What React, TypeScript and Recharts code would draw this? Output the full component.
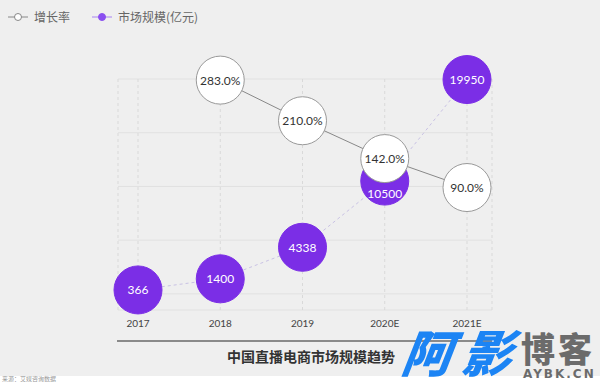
import React from 'react';
import { LineChart, Line, XAxis, YAxis, CartesianGrid } from 'recharts';

const years = ['2017', '2018', '2019', '2020E', '2021E'];
const marketSize = [366, 1400, 4338, 10500, 19950];
const growthRate = [null, 283.0, 210.0, 142.0, 90.0];
const marketTicks = [0, 5000, 10000, 15000, 20000];

const data = years.map((year, i) => ({ year, market: marketSize[i], rate: growthRate[i] }));

const PURPLE = '#7b2ee6';
const FONT = 'Lato, "Noto Sans CJK SC", sans-serif';
const CJK = '"Noto Sans CJK SC", sans-serif';

// bubbles are drawn as labels so the plot clip path does not cut them
const Bubble = ({ x, y, value, fill, stroke, color, text, dy = 0 }: any) => {
  if (value == null || x == null || y == null) return null;
  return (
    <g>
      <circle cx={x} cy={y} r={24} fill={fill} stroke={stroke} strokeWidth={1} />
      <text x={x} y={y + dy} textAnchor="middle" dominantBaseline="central" fontSize={12} fill={color} fontFamily={FONT}>
        {text}
      </text>
    </g>
  );
};

const LegendIcon = ({ line, dotFill, dotStroke }: { line: string; dotFill: string; dotStroke: string }) => (
  <svg width={20} height={10} style={{ marginRight: 6 }}>
    <line x1={0} y1={5} x2={20} y2={5} stroke={line} strokeWidth={1} />
    <circle cx={10} cy={5} r={3.5} fill={dotFill} stroke={dotStroke} strokeWidth={1} />
  </svg>
);

export default function App() {
  return (
    <div style={{ position: 'fixed', left: 0, top: 0, width: 600, height: 382, background: '#fff', overflow: 'hidden', fontFamily: FONT }}>
      <div style={{ position: 'absolute', left: 0, top: 0, width: 600, height: 376, background: '#efefef' }} />

      <div style={{ position: 'absolute', left: 8, top: 8, display: 'flex', alignItems: 'center', fontSize: 12, color: '#666', fontFamily: CJK }}>
        <LegendIcon line="#888" dotFill="#fff" dotStroke="#888" />
        <span style={{ marginRight: 22 }}>增长率</span>
        <LegendIcon line="#a883f2" dotFill="#8a4ff0" dotStroke="#8a4ff0" />
        <span>市场规模(亿元)</span>
      </div>

      <div style={{ position: 'absolute', left: 0, top: 0 }}>
        <LineChart width={600} height={382} data={data} margin={{ top: 79, right: 108, bottom: 42, left: 118 }}>
          <CartesianGrid yAxisId="market" vertical={false} stroke="#e1e1e1" />
          <CartesianGrid yAxisId="market" horizontal={false} stroke="#d9d9d9" strokeDasharray="3 3" />
          <XAxis
            dataKey="year"
            height={30}
            axisLine={false}
            tickLine={false}
            padding={{ left: 20, right: 25 }}
            tick={{ fontSize: 10, fill: '#444', fontFamily: FONT }}
            tickMargin={4}
            interval={0}
          />
          <YAxis yAxisId="market" hide domain={[-1500, 20000]} ticks={marketTicks} allowDataOverflow />
          <YAxis yAxisId="rate" hide domain={[-130, 285]} allowDataOverflow />
          <Line
            yAxisId="market"
            dataKey="market"
            stroke="#c9c2e4"
            strokeWidth={1}
            strokeDasharray="3 3"
            isAnimationActive={false}
            activeDot={false}
            dot={false}
            label={(p: any) => (
              <Bubble
                key={`m-${p.index}`}
                x={p.x}
                y={p.y}
                value={p.value}
                fill={PURPLE}
                stroke={PURPLE}
                color="#fff"
                text={String(p.value)}
                dy={growthRate[p.index] != null && growthRate[p.index]! < 150 && growthRate[p.index]! > 100 ? 12 : 0}
              />
            )}
          />
          <Line
            yAxisId="rate"
            dataKey="rate"
            stroke="#888"
            strokeWidth={1}
            isAnimationActive={false}
            activeDot={false}
            dot={false}
            label={(p: any) => (
              <Bubble key={`r-${p.index}`} x={p.x} y={p.y} value={p.value} fill="#fff" stroke="#999" color="#333" text={p.value == null ? '' : `${Number(p.value).toFixed(1)}%`} />
            )}
          />
        </LineChart>
      </div>

      <div style={{ position: 'absolute', left: 117, top: 340, width: 375, height: 2, background: '#8a8a8a' }} />
      <div style={{ position: 'absolute', left: 117, width: 388, top: 346, textAlign: 'center', fontSize: 14, fontWeight: 'bold', color: '#333', fontFamily: CJK }}>
        中国直播电商市场规模趋势
      </div>

      <div style={{ position: 'absolute', left: 2, top: 376, fontSize: 6, color: '#999', fontFamily: CJK, lineHeight: '6px' }}>
        来源：艾媒咨询数据
      </div>

      <div style={{ position: 'absolute', left: 403, top: 322, fontSize: 50, fontWeight: 900, fontStyle: 'italic', color: '#1c84f4', fontFamily: CJK, lineHeight: '56px', letterSpacing: 10, transform: 'skewX(-8deg)', whiteSpace: 'nowrap' }}>
        阿影
      </div>
      <div style={{ position: 'absolute', left: 521, top: 330, fontSize: 34, fontWeight: 900, color: '#6b6b6b', fontFamily: CJK, lineHeight: '36px', letterSpacing: 3, whiteSpace: 'nowrap' }}>
        博客
      </div>
      <div style={{ position: 'absolute', left: 523, top: 368, fontSize: 12, fontWeight: 'bold', color: '#6b6b6b', fontFamily: '"DejaVu Sans", sans-serif', lineHeight: '12px', letterSpacing: 2, whiteSpace: 'nowrap' }}>
        AYBK.CN
      </div>
    </div>
  );
}
